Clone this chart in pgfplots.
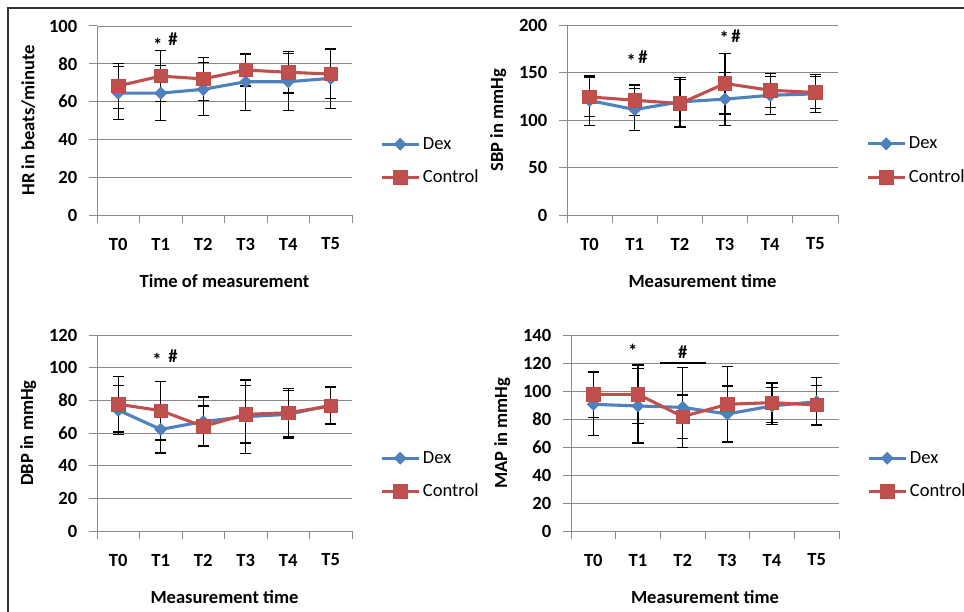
\documentclass[border=0pt]{standalone}
\usepackage{fontspec}
\setmainfont{Carlito}
\usepackage{pgfplots}
\usepackage{pgfplotstable}
\pgfplotsset{compat=1.18}

\definecolor{dexblue}{HTML}{4F81BD}
\definecolor{dexedge}{HTML}{4A7EBB}
\definecolor{conred}{HTML}{C0504D}
\definecolor{conedge}{HTML}{BE4B48}
\definecolor{gridgray}{HTML}{888888}

% x = time point, mean and SD for each group
\pgfplotstableread{
x dex dexe con cone
0 64.5 14.0 68.3 12.0
1 64.5 14.5 73.5 13.5
2 66.5 14.0 72.0 11.5
3 70.5 15.0 76.7 8.5
4 70.5 15.0 75.5 11.0
5 72.3 16.0 74.6 13.0
}\hrdata
\pgfplotstableread{
x dex dexe con cone
0 120.5 26 124.3 21
1 111.0 22 120.8 16
2 119.0 26 117.3 25
3 122.0 28 138.4 32
4 126.0 20 131.3 18
5 127.5 20 129.0 17
}\sbpdata
\pgfplotstableread{
x dex dexe con cone
0 74.0 15.0 77.6 17.0
1 62.2 14.5 73.7 18.0
2 67.0 15.0 64.0 12.5
3 70.0 22.5 71.4 17.5
4 71.4 14.5 72.4 14.8
5 77.0 11.5 76.5 11.5
}\dbpdata
\pgfplotstableread{
x dex dexe con cone
0 90.5 22.5 97.6 16.5
1 89.3 26.5 97.6 21.0
2 88.3 28.5 81.7 15.5
3 83.6 20.0 90.5 27.0
4 89.3 13.0 91.7 14.0
5 92.4 17.0 90.0 14.0
}\mapdata

\newcommand{\chartfont}{\fontsize{13.2}{15}\selectfont}

\tikzset{sigmark/.style={font=\chartfont\bfseries, inner sep=0pt}}

\pgfplotsset{
  panel/.style={
    scale only axis, anchor=south west,
    xmin=-0.5, xmax=5.5, ymin=0,
    axis lines=left, axis line style={-, gridgray, line width=0.7pt},
    ymajorgrids, major grid style={gridgray, line width=0.6pt},
    tick align=outside, major tick length=0.2cm,
    tick style={gridgray, line width=0.7pt},
    xtick={-0.5,0.5,...,5.5}, xticklabels={,,,,,,},
    extra x ticks={0,1,2,3,4,5},
    extra x tick labels={T0,T1,T2,T3,T4,T5},
    extra x tick style={major tick length=0pt, grid=none},
    /pgf/number format/assume math mode=true,
    ticklabel style={font=\chartfont\bfseries},
    xticklabel style={yshift=-0.45cm},
    yticklabel style={xshift=-0.17cm},
    xlabel style={font=\chartfont\bfseries, at={(axis description cs:0.5,0)}, yshift=-1.65cm, anchor=center},
    ylabel style={font=\chartfont\bfseries, at={([xshift=-1.72cm]axis description cs:0,0.5)}, anchor=center},
    legend style={at={(axis description cs:1,0.285)}, anchor=west, xshift=0.7cm,
      draw=none, fill=none, font=\chartfont, row sep=0.33cm, inner sep=0pt,
      cells={anchor=west}},
    legend image code/.code={\draw[mark repeat=2,mark phase=2] plot coordinates {(0cm,0cm)(0.46cm,0cm)(0.92cm,0cm)};},
  },
  errs/.style={draw=none, mark=none, forget plot,
    error bars/.cd, y dir=both, y explicit,
    error bar style={black, line width=0.85pt},
    error mark options={black, line width=0.85pt, mark size=4pt, rotate=90}},
  dexline/.style={dexblue, line width=2.2pt, mark=square*, mark size=3pt,
    mark options={rotate=45, fill=dexblue, draw=dexedge, line width=0.5pt}},
  conline/.style={conred, line width=2.2pt, mark=square*, mark size=4.8pt,
    mark options={fill=conred, draw=conedge, line width=0.5pt}},
}

\begin{document}
\begin{tikzpicture}
\useasboundingbox (0,0) rectangle (24.1,15.3);
\draw[black!80, line width=1.1pt] (0.2,0) -- (0.2,15.1) -- (24.1,15.1);

% HR
\begin{axis}[panel, at={(2.425cm,9.925cm)}, width=6.375cm, height=4.725cm,
  ymax=100, ytick={0,20,...,100},
  xlabel={Time of measurement}, ylabel={HR in beats/minute}]
\addplot[errs] table[x=x, y=dex, y error=dexe] {\hrdata};
\addplot[errs] table[x=x, y=con, y error=cone] {\hrdata};
\addplot[dexline] table[x=x, y=dex] {\hrdata};
\addplot[conline] table[x=x, y=con] {\hrdata};
\legend{Dex, Control}
\node[sigmark] at (axis cs:0.93,90) {*};
\node[sigmark] at (axis cs:1.29,93) {\#};
\end{axis}

% SBP
\begin{axis}[panel, at={(14.175cm,9.925cm)}, width=6.775cm, height=4.75cm,
  ymax=200, ytick={0,50,...,200},
  xlabel={Measurement time}, ylabel={SBP in mmHg}]
\addplot[errs] table[x=x, y=dex, y error=dexe] {\sbpdata};
\addplot[errs] table[x=x, y=con, y error=cone] {\sbpdata};
\addplot[dexline] table[x=x, y=dex] {\sbpdata};
\addplot[conline] table[x=x, y=con] {\sbpdata};
\legend{Dex, Control}
\node[sigmark] at (axis cs:0.92,162) {*};
\node[sigmark] at (axis cs:1.18,165.7) {\#};
\node[sigmark] at (axis cs:2.98,186) {*};
\node[sigmark] at (axis cs:3.24,188.4) {\#};
\end{axis}

% DBP
\begin{axis}[panel, at={(2.425cm,2.025cm)}, width=6.375cm, height=4.9cm,
  ymax=120, ytick={0,20,...,120},
  xlabel={Measurement time}, ylabel={DBP in mmHg}]
\addplot[errs] table[x=x, y=dex, y error=dexe] {\dbpdata};
\addplot[errs] table[x=x, y=con, y error=cone] {\dbpdata};
\addplot[dexline] table[x=x, y=dex] {\dbpdata};
\addplot[conline] table[x=x, y=con] {\dbpdata};
\legend{Dex, Control}
\node[sigmark] at (axis cs:0.91,104.5) {*};
\node[sigmark] at (axis cs:1.29,107.3) {\#};
\end{axis}

% MAP
\begin{axis}[panel, at={(14.275cm,2.025cm)}, width=6.7cm, height=4.9cm,
  ymax=140, ytick={0,20,...,140},
  xlabel={Measurement time}, ylabel={MAP in mmHg}]
\addplot[errs] table[x=x, y=dex, y error=dexe] {\mapdata};
\addplot[errs] table[x=x, y=con, y error=cone] {\mapdata};
\addplot[black, line width=0.9pt, forget plot] coordinates {(1.49,120) (2.52,120)};
\addplot[dexline] table[x=x, y=dex] {\mapdata};
\addplot[conline] table[x=x, y=con] {\mapdata};
\legend{Dex, Control}
\node[sigmark] at (axis cs:0.88,128.8) {*};
\node[sigmark] at (axis cs:2.0,127.9) {\#};
\end{axis}
\end{tikzpicture}
\end{document}
